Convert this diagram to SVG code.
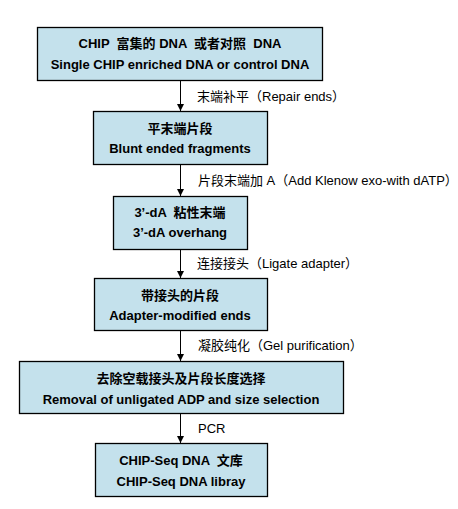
<svg xmlns="http://www.w3.org/2000/svg" width="458" height="509" viewBox="0 0 458 509">
<style>
.box{fill:#C4E1EC;stroke:#000;stroke-width:1.3}
.t{font-family:"Liberation Sans","Noto Sans CJK SC",Arial,sans-serif;font-size:13px;font-weight:bold;fill:#000;text-anchor:middle;white-space:pre}
.l{font-family:"Liberation Sans","Noto Sans CJK SC",Arial,sans-serif;font-size:13px;fill:#000}
.c{stroke:#000;stroke-width:1;fill:none}
</style>
<defs>
<marker id="ah" markerWidth="7" markerHeight="8" refX="7" refY="3.5" orient="auto" markerUnits="userSpaceOnUse" viewBox="0 0 7 7">
<path d="M0,0 L7,3.5 L0,7 Z" fill="#000"/>
</marker>
</defs>
<rect width="458" height="509" fill="#fff"/>
<g id="connectors">
<line class="c" x1="180.5" y1="81" x2="180.5" y2="111" marker-end="url(#ah)"/>
<line class="c" x1="180.5" y1="164" x2="180.5" y2="196" marker-end="url(#ah)"/>
<line class="c" x1="180.5" y1="249" x2="180.5" y2="278" marker-end="url(#ah)"/>
<line class="c" x1="180.5" y1="330" x2="180.5" y2="361" marker-end="url(#ah)"/>
<line class="c" x1="180.5" y1="413" x2="180.5" y2="443" marker-end="url(#ah)"/>
<text class="l" x="197" y="101">末端补平（Repair ends）</text>
<text class="l" x="198" y="185">片段末端加 A（Add Klenow exo-with dATP）</text>
<text class="l" x="197" y="268">连接接头（Ligate adapter）</text>
<text class="l" x="198" y="350">凝胶纯化（Gel purification）</text>
<text class="l" x="198" y="433">PCR</text>
</g>
<g id="n1">
<rect class="box" x="37.5" y="27.5" width="285" height="53"/>
<text class="t" x="180" y="48" xml:space="preserve">CHIP  富集的 DNA  或者对照  DNA</text>
<text class="t" x="180" y="69">Single CHIP enriched DNA or control DNA</text>
</g>
<g id="n2">
<rect class="box" x="93.5" y="111.5" width="174" height="53"/>
<text class="t" x="180" y="133">平末端片段</text>
<text class="t" x="180" y="153">Blunt ended fragments</text>
</g>
<g id="n3">
<rect class="box" x="113.5" y="196.5" width="134" height="53"/>
<text class="t" x="180" y="217" xml:space="preserve">3’-dA  粘性末端</text>
<text class="t" x="180" y="237">3’-dA overhang</text>
</g>
<g id="n4">
<rect class="box" x="94.5" y="278.5" width="173" height="52"/>
<text class="t" x="180" y="300">带接头的片段</text>
<text class="t" x="180" y="320">Adapter-modified ends</text>
</g>
<g id="n5">
<rect class="box" x="19.5" y="361.5" width="324" height="52"/>
<text class="t" x="181" y="383">去除空载接头及片段长度选择</text>
<text class="t" x="181" y="404">Removal of unligated ADP and size selection</text>
</g>
<g id="n6">
<rect class="box" x="95.5" y="443.5" width="172" height="53"/>
<text class="t" x="181" y="465" xml:space="preserve">CHIP-Seq DNA  文库</text>
<text class="t" x="181" y="486">CHIP-Seq DNA libray</text>
</g>
</svg>
